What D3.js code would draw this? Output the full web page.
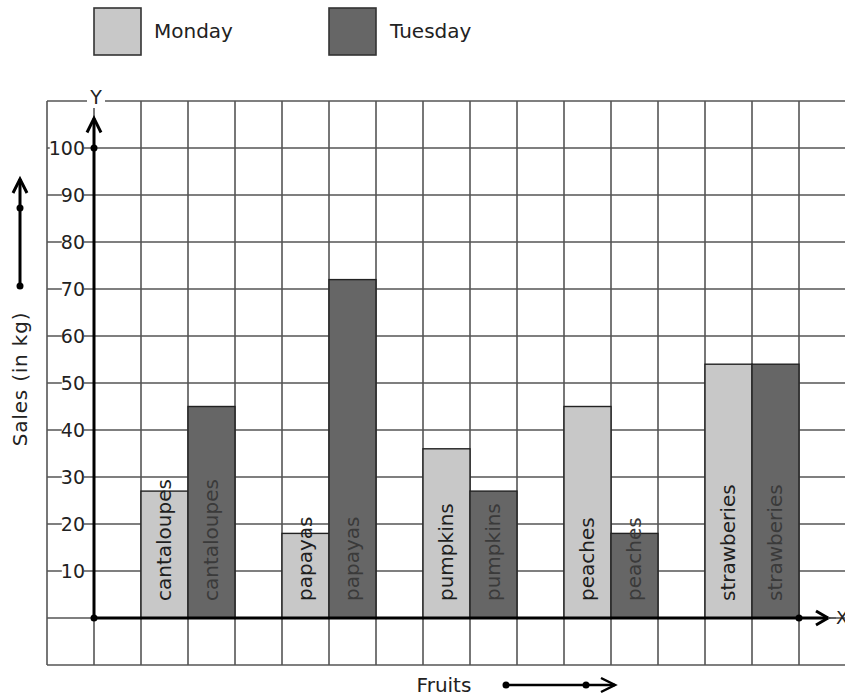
<!DOCTYPE html>
<html><head><meta charset="utf-8">
<script src="https://cdn.jsdelivr.net/npm/d3@7/dist/d3.min.js"></script>
<style>body{margin:0;background:#fff}svg{display:block;font-family:"DejaVu Sans",sans-serif}</style>
</head><body><svg id="c" width="845" height="700"></svg>
<script>
const categories = ["cantaloupes","papayas","pumpkins","peaches","strawberies"];
const seriesNames = ["Monday","Tuesday"];
const monday = [27,18,36,45,54];
const tuesday = [45,72,27,18,54];
const yTicks = [10,20,30,40,50,60,70,80,90,100];
const colors = {Monday:"#c8c8c8",Tuesday:"#666666"};
const labelColors = {Monday:"#1e1e1e",Tuesday:"#3a3a3a"};

const svg = d3.select("#c");
const y = d3.scaleLinear().domain([0,100]).range([618,148]);
const gx = d3.scaleLinear().domain([0,17]).range([47,846]);
const x0 = d3.scaleBand().domain(categories).range([141,799]).paddingInner(1/3).paddingOuter(0);
const x1 = d3.scaleBand().domain(seriesNames).range([0,x0.bandwidth()]);

// grid
const grid = svg.append("g").attr("stroke","#555").attr("stroke-width",1.6);
d3.range(0,18).forEach(i=>{
  grid.append("line").attr("x1",gx(i)).attr("x2",gx(i)).attr("y1",y(110)).attr("y2",y(-10));
});
d3.range(-10,111,10).forEach(v=>{
  grid.append("line").attr("x1",gx(0)).attr("x2",gx(17)).attr("y1",y(v)).attr("y2",y(v));
});

// bars
const data = categories.map((c,i)=>({cat:c, vals:[{s:"Monday",v:monday[i]},{s:"Tuesday",v:tuesday[i]}]}));
const groups = svg.append("g").selectAll("g").data(data).join("g")
  .attr("transform",d=>`translate(${x0(d.cat)},0)`);
groups.selectAll("rect").data(d=>d.vals).join("rect")
  .attr("x",d=>x1(d.s)).attr("width",x1.bandwidth())
  .attr("y",d=>y(d.v)).attr("height",d=>y(0)-y(d.v))
  .attr("fill",d=>colors[d.s]).attr("stroke","#222").attr("stroke-width",1.4);
groups.each(function(d){
  const g=d3.select(this);
  d.vals.forEach(v=>{
    g.append("text")
      .attr("transform",`translate(${x1(v.s)+x1.bandwidth()/2+6.5},${y(0)-17}) rotate(-90)`)
      .attr("font-size",20).attr("fill",labelColors[v.s]).text(d.cat);
  });
});

// Y label with white background
svg.append("rect").attr("x",87).attr("y",90).attr("width",18).attr("height",18).attr("fill","#fff");
svg.append("text").attr("x",96).attr("y",104).attr("text-anchor","middle").attr("font-size",19).attr("fill","#222").text("Y");

// tick labels
const tl = svg.append("g");
yTicks.forEach(v=>{
  const t = tl.append("text").attr("x",85).attr("y",y(v)+7).attr("text-anchor","end")
    .attr("font-size",19).attr("fill","#222").text(v);
  const bb = t.node().getBBox();
  tl.insert("rect","text").attr("x",bb.x+1).attr("y",bb.y+3).attr("width",bb.width-2).attr("height",bb.height-6).attr("fill","#fff");
});

// axes
const ax = svg.append("g").attr("stroke","#000").attr("stroke-width",3).attr("fill","none");
ax.append("line").attr("x1",gx(1)).attr("x2",gx(1)).attr("y1",y(0)).attr("y2",y(106.3));
ax.append("path").attr("d",`M${gx(1)-7},${y(103.3)} L${gx(1)},${y(106.3)} L${gx(1)+7},${y(103.3)}`);
ax.append("line").attr("x1",gx(1)).attr("x2",828).attr("y1",y(0)).attr("y2",y(0));
ax.append("path").attr("d",`M816,${y(0)-7} L828,${y(0)} L816,${y(0)+7}`);
svg.append("line").attr("x1",828).attr("x2",836).attr("y1",y(0)).attr("y2",y(0)).attr("stroke","#555").attr("stroke-width",1.5);
[[gx(1),y(0)],[gx(1),y(100)],[gx(16),y(0)]].forEach(p=>svg.append("circle").attr("cx",p[0]).attr("cy",p[1]).attr("r",3.5).attr("fill","#000"));
svg.append("text").attr("x",836).attr("y",624).attr("font-size",18).attr("fill","#222").text("X");

// left arrow
const la = svg.append("g").attr("stroke","#000").attr("stroke-width",3).attr("fill","none");
la.append("line").attr("x1",20).attr("x2",20).attr("y1",286).attr("y2",179);
la.append("path").attr("d","M13,193 L20,179 L27,193");
[[20,286],[20,208]].forEach(p=>svg.append("circle").attr("cx",p[0]).attr("cy",p[1]).attr("r",3.5).attr("fill","#000"));
svg.append("text").attr("transform","translate(27,379) rotate(-90)").attr("text-anchor","middle")
  .attr("font-size",20).attr("letter-spacing",0.8).attr("fill","#222").text("Sales (in kg)");

// bottom arrow
svg.append("text").attr("x",444).attr("y",692).attr("text-anchor","middle").attr("font-size",20).attr("fill","#222").text("Fruits");
const ba = svg.append("g").attr("stroke","#000").attr("stroke-width",2.5).attr("fill","none");
ba.append("line").attr("x1",506).attr("x2",615).attr("y1",685).attr("y2",685);
ba.append("path").attr("d","M601,678 L615,685 L601,692");
[[506,685],[586,685]].forEach(p=>svg.append("circle").attr("cx",p[0]).attr("cy",p[1]).attr("r",3.5).attr("fill","#000"));

// legend
const leg = svg.append("g");
[[94,154],[329,390]].forEach((p,i)=>{
  leg.append("rect").attr("x",p[0]).attr("y",8).attr("width",47).attr("height",47)
    .attr("fill",colors[seriesNames[i]]).attr("stroke","#333").attr("stroke-width",1.6);
  leg.append("text").attr("x",p[1]).attr("y",38).attr("font-size",20).attr("fill","#222").text(seriesNames[i]);
});
</script></body></html>
